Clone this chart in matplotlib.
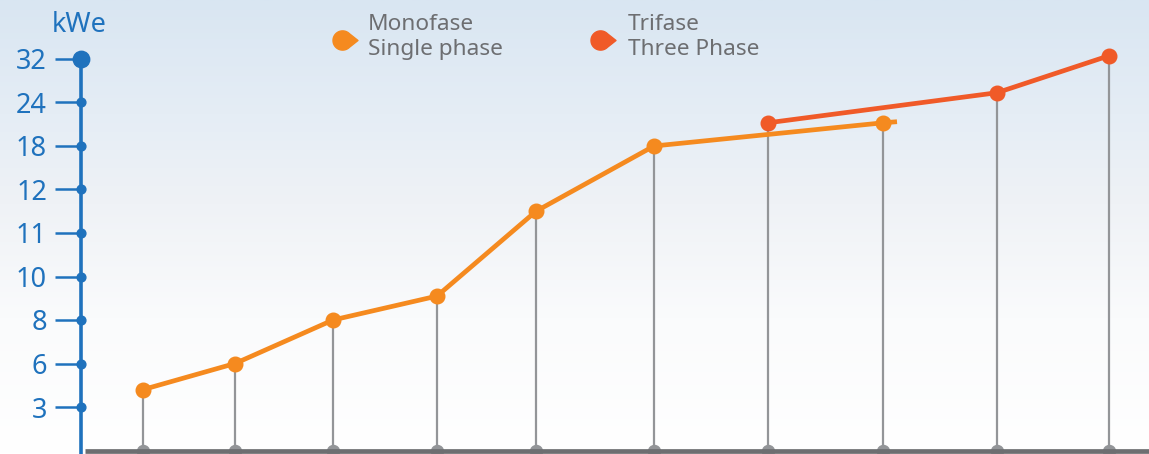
import numpy as np
import matplotlib
matplotlib.use("Agg")
import matplotlib.pyplot as plt
from matplotlib.path import Path
from matplotlib.colors import LinearSegmentedColormap

# ---- data ----
ytick_values = [3, 6, 8, 10, 11, 12, 18, 24, 32]
mono_values = [4.2, 6.0, 8.0, 9.1, 11.5, 18.0, 21.2]
tri_values = [21.2, 25.8, 32.6]
legend_labels = ["Monofase\nSingle phase", "Trifase\nThree Phase"]
unit_label = "kWe"

# ---- layout (horizontal positions of the columns) ----
col_x = [143, 235, 333, 437, 536, 654, 768, 883, 997, 1109]
mono_cols = [0, 1, 2, 3, 4, 5, 7]
tri_cols = [6, 8, 9]

BLUE = "#1f72bd"
ORANGE = "#f58a1f"
RED = "#f05a28"
GRAY = "#939598"
DGRAY = "#6d6e71"
FONT = "Noto Sans"

idx = np.arange(len(ytick_values), dtype=float)
vals = np.array(ytick_values, dtype=float)


def fwd(v):
    v = np.asarray(v, dtype=float)
    out = np.interp(v, vals, idx)
    out = np.where(v < vals[0], (v - vals[0]) / (vals[1] - vals[0]), out)
    out = np.where(v > vals[-1], idx[-1] + (v - vals[-1]) / (vals[-1] - vals[-2]), out)
    return out


def inv(i):
    i = np.asarray(i, dtype=float)
    out = np.interp(i, idx, vals)
    out = np.where(i < 0, vals[0] + i * (vals[1] - vals[0]), out)
    out = np.where(i > idx[-1], vals[-1] + (i - idx[-1]) * (vals[-1] - vals[-2]), out)
    return out


W, H = 1149, 454
fig = plt.figure(figsize=(W / 100, H / 100), dpi=100)

# background gradient
bg = fig.add_axes([0, 0, 1, 1])
bg.set_axis_off()
cmap = LinearSegmentedColormap.from_list(
    "sky", [(0, "#d9e6f2"), (0.25, "#e5edf5"), (0.45, "#eff2f6"), (0.7, "#fafbfc"), (1, "#ffffff")])
grad = np.linspace(0, 1, 256).reshape(-1, 1)
bg.imshow(grad, aspect="auto", cmap=cmap, extent=[0, 1, 0, 1], origin="upper")
bg.set_xlim(0, 1)
bg.set_ylim(0, 1)

ax = fig.add_axes([0, 0, 1, 1])
ax.patch.set_alpha(0)
ax.set_yscale("function", functions=(fwd, inv))
px_per_idx = 43.5
ylo = float(inv(-(H - 407) / px_per_idx))
yhi = float(inv(407 / px_per_idx))
ax.set_xlim(0, W)
ax.set_ylim(ylo, yhi)
base = float(inv(-(451 - 407) / px_per_idx))

for s in ["top", "right", "bottom"]:
    ax.spines[s].set_visible(False)
ax.spines["left"].set_position(("data", 81))
ax.spines["left"].set_color(BLUE)
ax.spines["left"].set_linewidth(2.6)
ax.spines["left"].set_bounds(ylo, 32)
ax.set_xticks([])
ax.set_yticks(ytick_values)
ax.set_yticklabels([str(v) for v in ytick_values])
ax.yaxis.set_minor_locator(matplotlib.ticker.NullLocator())
ax.tick_params(axis="y", direction="out", length=19, width=1.8, color=BLUE,
               labelcolor=BLUE, labelsize=19.5, pad=5.5)
for lab in ax.get_yticklabels():
    lab.set_fontfamily(FONT)

# dots on axis
ax.scatter([81] * (len(ytick_values) - 1), ytick_values[:-1], s=40, color=BLUE, zorder=5, clip_on=False)
ax.scatter([81], [32], s=140, color=BLUE, zorder=5, clip_on=False)

ax.text(79, float(inv((407 - 25) / px_per_idx)), unit_label, color=BLUE, fontsize=19.5,
        fontfamily=FONT, ha="center", va="center")

# bottom axis
ax.plot([85, W], [base, base], color=DGRAY, lw=3.4, solid_capstyle="butt", zorder=4)

# vertical stems
mono_x = [col_x[c] for c in mono_cols]
tri_x = [col_x[c] for c in tri_cols]
stem_top = {}
for x, v in zip(mono_x, mono_values):
    stem_top[x] = max(stem_top.get(x, -1), v)
for x, v in zip(tri_x, tri_values):
    stem_top[x] = max(stem_top.get(x, -1), v)
for x in col_x:
    ax.plot([x, x], [base, stem_top[x]], color=GRAY, lw=1.6, zorder=2)
ax.scatter(col_x, [base] * len(col_x), s=75, color=GRAY, zorder=3, clip_on=True)

# series lines
ax.plot(mono_x + [897], mono_values + [mono_values[-1] + 0.15], color=ORANGE, lw=3.4, zorder=6,
        solid_capstyle="butt")
ax.plot(mono_x, mono_values, ls="none", marker="o", ms=10.5, color=ORANGE, zorder=7)
ax.plot(tri_x, tri_values, color=RED, lw=3.4, zorder=6, marker="o", ms=10.5, clip_on=False)

# legend with teardrop markers
ang = np.linspace(np.radians(45), np.radians(315), 40)
verts = list(zip(np.cos(ang), np.sin(ang))) + [(1.6, 0.0), (np.cos(ang[0]), np.sin(ang[0]))]
verts = [(vx - 0.3, vy) for vx, vy in verts]
drop = Path(verts)
for (lx, tx), col, lab in zip([(345, 368), (603, 628)], [ORANGE, RED], legend_labels):
    ax.plot([lx / W], [1 - 40 / H], transform=ax.transAxes, marker=drop, ms=18, color=col,
            clip_on=False, ls="none")
    ax.text(tx / W, 1 - 14 / H, lab, transform=ax.transAxes, color=DGRAY, fontsize=16.3,
            fontfamily=FONT, ha="left", va="top", linespacing=1.22)

fig.savefig("out.png", dpi=100)
